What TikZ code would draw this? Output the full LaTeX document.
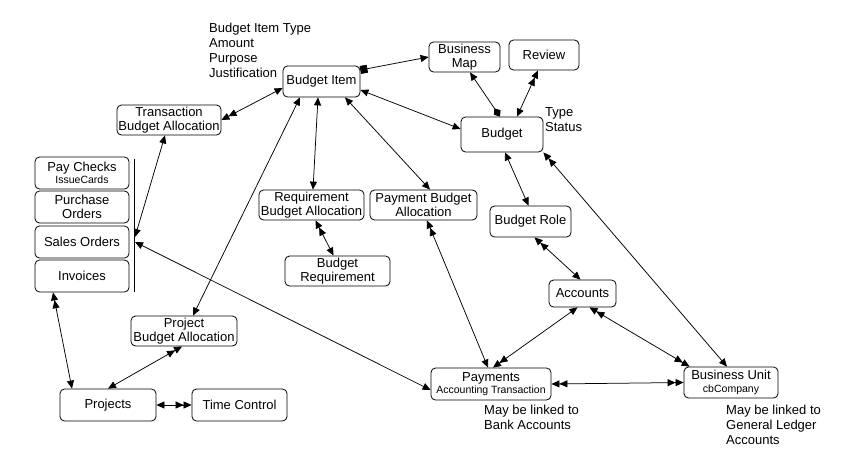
\documentclass[tikz,border=0pt]{standalone}
\usepackage{fontspec}
\setmainfont{Liberation Sans}
\usetikzlibrary{arrows.meta}
\begin{document}
\begin{tikzpicture}[x=1pt,y=-1pt,
  box/.style={draw, rounded corners=4.5pt, line width=0.8pt, align=center,
    inner sep=0pt, font=\fontsize{13}{14.5}\selectfont},
  note/.style={align=left, anchor=north west, inner sep=0pt,
    font=\fontsize{13}{15}\selectfont},
  link/.style={line width=0.75pt},
  >={Triangle[length=8pt,width=7pt]}]
\newcommand{\smalltxt}{\fontsize{10.5}{12}\selectfont}
\useasboundingbox (0,0) rectangle (856,474);

% central budget objects
\node[box, minimum width=77, minimum height=31] (bi) at (321.5,81.5) {Budget Item};
\node[box, minimum width=71, minimum height=30] (bm) at (464.5,57) {Business\\Map};
\node[box, minimum width=70, minimum height=30] (rev) at (544,55) {Review};
\node[box, minimum width=82, minimum height=35] (bu) at (502,134.5) {Budget};
\node[box, minimum width=104, minimum height=30] (tba) at (169,120) {Transaction\\Budget Allocation};

% stacked source documents
\node[box, minimum width=94, minimum height=32] (pc) at (82,173) {Pay Checks\\[-2pt]{\smalltxt IssueCards}};
\node[box, minimum width=94, minimum height=32] (po) at (82,207) {Purchase\\Orders};
\node[box, minimum width=94, minimum height=32] (so) at (82,242) {Sales Orders};
\node[box, minimum width=94, minimum height=32] (inv) at (82,276) {Invoices};
\coordinate (slt) at (134,159);
\coordinate (slb) at (134,292);
\draw[line width=0.8pt] (slt) -- (slb);
\coordinate (sa) at (135,237);
\coordinate (sb) at (135,242);

% allocations
\node[box, minimum width=105, minimum height=30] (rba) at (311.5,205) {Requirement\\Budget Allocation};
\node[box, minimum width=107, minimum height=30] (pyba) at (423.5,205) {Payment Budget\\Allocation};
\node[box, minimum width=105, minimum height=30] (breq) at (337.5,271) {Budget\\Requirement};
\node[box, minimum width=81, minimum height=31] (br) at (530.5,221.5) {Budget Role};
\node[box, minimum width=67, minimum height=27] (acc) at (582.5,293.5) {Accounts};
\node[box, minimum width=106, minimum height=30] (pba) at (184,331) {Project\\Budget Allocation};
\node[box, minimum width=96, minimum height=32] (proj) at (108,405) {Projects};
\node[box, minimum width=95, minimum height=32] (tc) at (239.5,405) {Time Control};
\node[box, minimum width=120, minimum height=32] (pay) at (491,384) {Payments\\[-2pt]{\smalltxt Accounting Transaction}};
\node[box, minimum width=94, minimum height=31] (bun) at (731,382.5) {Business Unit\\[-2pt]{\smalltxt cbCompany}};

% annotations
\node[note] (bitxt) at (209,23) {Budget Item Type\\Amount\\Purpose\\Justification};
\node[note] (butxt) at (545,107) {Type\\Status};
\node[note] (paytxt) at (484,405) {May be linked to\\Bank Accounts};
\node[note] (buntxt) at (726,405) {May be linked to\\General Ledger\\Accounts};

% connectors
\draw[link, {Square[length=7pt,width=8pt]}->] ([yshift=11.5pt]bi.east) -- (bm.west);
\draw[link, <->] ([yshift=-8.5pt]bi.east) -- ([yshift=5.5pt]bu.west);
\draw[link, <->] ([xshift=-21.5pt]bi.south) -- ([xshift=9pt]pba.north);
\draw[link, <->] ([xshift=-3.5pt]bi.south) -- ([xshift=1.5pt]rba.north);
\draw[link, <->] ([xshift=23.5pt]bi.south) -- ([xshift=6.5pt]pyba.north);
\draw[link, <<->] (tba.east) -- ([yshift=-6.5pt]bi.west);
\draw[link, <->] ([xshift=-4pt]tba.south) -- (sa);
\draw[link, <->] (sb) -- ([yshift=-6pt]pay.west);
\draw[link, <-{Diamond[length=10pt,width=8pt]}] ([xshift=5.5pt]bm.south) -- ([xshift=-2pt]bu.north);
\draw[link, <<->] ([xshift=-6pt]rev.south) -- ([xshift=15pt]bu.north);
\draw[link, <->] ([xshift=3pt]bu.south) -- ([xshift=-2pt]br.north);
\draw[link, <<->] (bu.south east) -- ([xshift=-4pt]bun.north);
\draw[link, <<->] ([xshift=4pt]br.south) -- ([xshift=-2pt]acc.north);
\draw[link, <->>] ([xshift=-5pt]acc.south) -- ([xshift=2pt]pay.north);
\draw[link, <<->>] ([xshift=7pt]acc.south) -- ([xshift=6pt]bun.north west);
\draw[link, <<->] ([xshift=3.5pt]pyba.south) -- ([xshift=-3pt]pay.north);
\draw[link, <<->] ([xshift=4pt]rba.south) -- ([xshift=-4pt]breq.north);
\draw[link, <<->] ([xshift=-29pt]inv.south) -- ([xshift=-36pt]proj.north);
\draw[link, <->>] (proj.north) -- ([xshift=-2pt]pba.south);
\draw[link, <->>] (proj.east) -- (tc.west);
\draw[link, <<->>] (pay.east) -- (bun.west);
\end{tikzpicture}
\end{document}
